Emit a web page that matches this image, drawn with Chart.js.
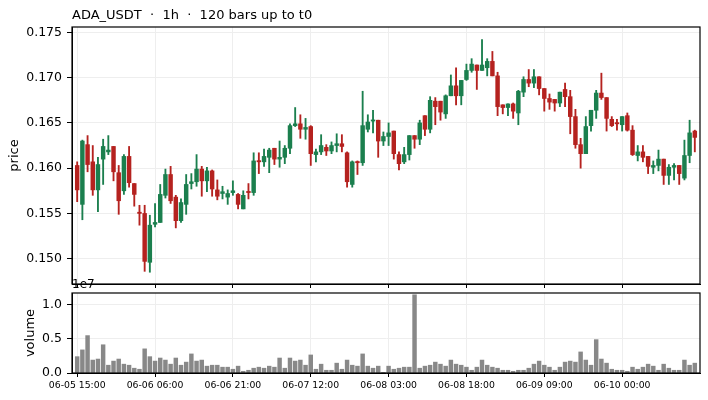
<!DOCTYPE html>
<html>
<head>
<meta charset="utf-8">
<script src="https://cdn.jsdelivr.net/npm/chart.js@4.4.1/dist/chart.umd.min.js"></script>
<style>
  body { margin: 0; background: #fff; }
  #wrap { position: relative; width: 708px; height: 400px; font-family: "DejaVu Sans", sans-serif; color: #000; }
  #price { position: absolute; left: 0; top: 0; }
  #volume { position: absolute; left: 0; top: 289px; }
  #title { position: absolute; left: 72px; top: 8px; font-size: 13px; line-height: 1; white-space: pre; }
  #offset { position: absolute; left: 72px; top: 278px; font-size: 12px; line-height: 1; }
</style>
</head>
<body>
<div id="wrap">
  <canvas id="price" width="708" height="290"></canvas>
  <canvas id="volume" width="708" height="111"></canvas>
  <div id="title">ADA_USDT  ·  1h  ·  120 bars up to t0</div>
  <div id="offset">1e7</div>
</div>
<script>
// hourly candles, bar index 0 = 06-05 15:00
const opens = [
  0.1603, 0.1560, 0.1626, 0.1607, 0.1576, 0.1610, 0.1618, 0.1624, 0.1595, 0.1575,
  0.1613, 0.1583, 0.1551, 0.1550, 0.1496, 0.1538, 0.1540, 0.1570, 0.1593, 0.1568,
  0.1542, 0.1560, 0.1583, 0.1585, 0.1599, 0.1586, 0.1597, 0.1576, 0.1572, 0.1568,
  0.1573, 0.1571, 0.1555, 0.1574, 0.1573, 0.1608, 0.1607, 0.1612, 0.1622, 0.1610,
  0.1612, 0.1622, 0.1647, 0.1649, 0.1643, 0.1646, 0.1615, 0.1618, 0.1623, 0.1619,
  0.1625, 0.1627, 0.1617, 0.1582, 0.1607, 0.1606, 0.1643, 0.1652, 0.1653, 0.1630,
  0.1635, 0.1641, 0.1615, 0.1607, 0.1615, 0.1636, 0.1632, 0.1658, 0.1643, 0.1674,
  0.1674, 0.1660, 0.1680, 0.1691, 0.1680, 0.1698, 0.1708, 0.1714, 0.1708, 0.1711,
  0.1718, 0.1702, 0.1670, 0.1667, 0.1671, 0.1661, 0.1684, 0.1698, 0.1694, 0.1701,
  0.1688, 0.1677, 0.1676, 0.1672, 0.1687, 0.1679, 0.1657, 0.1626, 0.1616, 0.1647,
  0.1664, 0.1683, 0.1678, 0.1654, 0.1650, 0.1648, 0.1658, 0.1642, 0.1614, 0.1618,
  0.1613, 0.1601, 0.1603, 0.1610, 0.1592, 0.1601, 0.1603, 0.1589, 0.1614, 0.1641
];
const highs = [
  0.1607, 0.1631, 0.1636, 0.1625, 0.1612, 0.1632, 0.1636, 0.1624, 0.1603, 0.1615,
  0.1624, 0.1583, 0.1559, 0.1559, 0.1548, 0.1561, 0.1582, 0.1599, 0.1602, 0.1570,
  0.1566, 0.1593, 0.1594, 0.1615, 0.1602, 0.1601, 0.1598, 0.1587, 0.1580, 0.1576,
  0.1586, 0.1572, 0.1575, 0.1583, 0.1617, 0.1617, 0.1621, 0.1622, 0.1622, 0.1630,
  0.1625, 0.1649, 0.1667, 0.1659, 0.1655, 0.1647, 0.1621, 0.1637, 0.1626, 0.1629,
  0.1638, 0.1637, 0.1618, 0.1608, 0.1608, 0.1685, 0.1659, 0.1664, 0.1653, 0.1640,
  0.1650, 0.1641, 0.1618, 0.1623, 0.1636, 0.1636, 0.1653, 0.1658, 0.1679, 0.1678,
  0.1674, 0.1681, 0.1703, 0.1711, 0.1697, 0.1715, 0.1721, 0.1714, 0.1742, 0.1721,
  0.1729, 0.1706, 0.1670, 0.1671, 0.1672, 0.1686, 0.1701, 0.1709, 0.1709, 0.1701,
  0.1688, 0.1682, 0.1676, 0.1684, 0.1694, 0.1686, 0.1665, 0.1633, 0.1657, 0.1664,
  0.1686, 0.1705, 0.1678, 0.1657, 0.1654, 0.1657, 0.1661, 0.1647, 0.1625, 0.1625,
  0.1613, 0.1608, 0.1620, 0.1610, 0.1604, 0.1605, 0.1603, 0.1631, 0.1653, 0.1642
];
const lows = [
  0.1563, 0.1543, 0.1596, 0.1570, 0.1552, 0.1582, 0.1615, 0.1586, 0.1549, 0.1571,
  0.1579, 0.1558, 0.1537, 0.1486, 0.1485, 0.1535, 0.1540, 0.1567, 0.1561, 0.1534,
  0.1540, 0.1549, 0.1577, 0.1580, 0.1569, 0.1574, 0.1569, 0.1565, 0.1566, 0.1560,
  0.1570, 0.1555, 0.1555, 0.1566, 0.1570, 0.1594, 0.1602, 0.1595, 0.1604, 0.1601,
  0.1605, 0.1616, 0.1646, 0.1633, 0.1632, 0.1603, 0.1607, 0.1615, 0.1614, 0.1616,
  0.1618, 0.1618, 0.1579, 0.1579, 0.1593, 0.1603, 0.1640, 0.1639, 0.1612, 0.1625,
  0.1625, 0.1610, 0.1598, 0.1605, 0.1609, 0.1622, 0.1626, 0.1636, 0.1639, 0.1648,
  0.1653, 0.1655, 0.1680, 0.1670, 0.1670, 0.1697, 0.1706, 0.1687, 0.1708, 0.1702,
  0.1702, 0.1658, 0.1660, 0.1658, 0.1655, 0.1648, 0.1679, 0.1690, 0.1689, 0.1681,
  0.1663, 0.1665, 0.1663, 0.1668, 0.1668, 0.1638, 0.1622, 0.1600, 0.1616, 0.1641,
  0.1655, 0.1676, 0.1641, 0.1646, 0.1642, 0.1641, 0.1641, 0.1614, 0.1608, 0.1607,
  0.1594, 0.1594, 0.1597, 0.1582, 0.1582, 0.1587, 0.1582, 0.1587, 0.1606, 0.1618
];
const closes = [
  0.1576, 0.1630, 0.1604, 0.1576, 0.1604, 0.1624, 0.1620, 0.1596, 0.1564, 0.1613,
  0.1584, 0.1571, 0.1550, 0.1497, 0.1537, 0.1540, 0.1571, 0.1593, 0.1564, 0.1542,
  0.1562, 0.1582, 0.1585, 0.1599, 0.1586, 0.1597, 0.1577, 0.1569, 0.1574, 0.1572,
  0.1575, 0.1560, 0.1570, 0.1573, 0.1608, 0.1607, 0.1613, 0.1620, 0.1610, 0.1612,
  0.1622, 0.1647, 0.1649, 0.1643, 0.1645, 0.1616, 0.1618, 0.1625, 0.1619, 0.1625,
  0.1627, 0.1624, 0.1585, 0.1607, 0.1606, 0.1647, 0.1651, 0.1653, 0.1630, 0.1635,
  0.1639, 0.1616, 0.1605, 0.1615, 0.1636, 0.1632, 0.1650, 0.1643, 0.1675, 0.1668,
  0.1662, 0.1680, 0.1691, 0.1680, 0.1697, 0.1708, 0.1715, 0.1708, 0.1714, 0.1718,
  0.1702, 0.1668, 0.1667, 0.1671, 0.1663, 0.1685, 0.1698, 0.1694, 0.1701, 0.1688,
  0.1677, 0.1673, 0.1672, 0.1684, 0.1679, 0.1657, 0.1626, 0.1616, 0.1646, 0.1664,
  0.1683, 0.1678, 0.1655, 0.1647, 0.1649, 0.1657, 0.1642, 0.1615, 0.1618, 0.1612,
  0.1602, 0.1603, 0.1610, 0.1592, 0.1601, 0.1603, 0.1594, 0.1614, 0.1639, 0.1634
];
// volume in millions
const volumes = [
  2.39, 3.38, 5.47, 1.89, 2.04, 4.13, 1.14, 1.74, 2.04, 1.29,
  1.14, 0.70, 0.55, 3.53, 2.39, 1.74, 2.19, 1.89, 1.29, 2.19,
  1.14, 1.59, 2.79, 1.74, 1.89, 1.00, 1.14, 1.14, 0.85, 0.85,
  0.55, 1.00, 0.25, 0.40, 0.70, 0.85, 0.70, 1.00, 0.85, 2.19,
  0.70, 2.19, 1.74, 1.89, 1.14, 2.64, 0.55, 1.29, 0.40, 0.40,
  1.44, 0.55, 1.89, 1.14, 1.00, 2.79, 1.00, 0.70, 1.00, 0.10,
  1.00, 0.55, 0.70, 0.85, 0.85, 11.44, 0.70, 1.00, 1.14, 1.59,
  1.29, 1.00, 1.89, 1.29, 1.14, 0.85, 0.40, 0.85, 1.89, 1.14,
  0.85, 0.70, 0.40, 0.40, 0.25, 0.40, 0.40, 0.70, 1.29, 1.74,
  1.14, 0.85, 0.40, 0.85, 1.59, 1.74, 1.59, 3.08, 1.89, 1.14,
  4.88, 2.04, 1.44, 0.55, 0.40, 0.40, 0.25, 0.85, 0.55, 0.85,
  1.29, 1.00, 0.40, 1.29, 0.70, 0.40, 0.40, 1.89, 1.14, 1.44
];
const xTickPos = [0, 15, 30, 45, 60, 75, 90, 105];
const xTickLabels = ['06-05 15:00', '06-06 06:00', '06-06 21:00', '06-07 12:00',
                     '06-08 03:00', '06-08 18:00', '06-09 09:00', '06-10 00:00'];
const priceTicks = [0.150, 0.155, 0.160, 0.165, 0.170, 0.175];
const volumeTicks = [0, 5, 10];

const UP = '#1b7f4e';
const DOWN = '#b5221f';
const GRID = '#eeeeee';
const FONT = 'DejaVu Sans';

const colors = opens.map((o, i) => (closes[i] >= o ? UP : DOWN));

// black box round the plot area, like a matplotlib frame
const framePlugin = {
  id: 'frame',
  afterDraw(chart) {
    const a = chart.chartArea;
    const ctx = chart.ctx;
    ctx.save();
    ctx.strokeStyle = '#000';
    ctx.lineWidth = 1.2;
    ctx.strokeRect(a.left, a.top, a.right - a.left, a.bottom - a.top);
    ctx.restore();
  }
};

// stop the tick labels from pushing the plot area in
function noPad(s) {
  s.paddingTop = 0;
  s.paddingBottom = 0;
  s.paddingLeft = 0;
  s.paddingRight = 0;
}

function xScale(showLabels) {
  return {
    type: 'linear',
    min: -1,
    max: 120,
    offset: false,
    grid: { offset: false, color: GRID, tickColor: '#000', tickLength: 4 },
    border: { color: '#000' },
    ticks: {
      display: showLabels,
      color: '#000',
      padding: 3,
      maxRotation: 0,
      font: { family: FONT, size: 9.3 },
      callback: (v) => xTickLabels[xTickPos.indexOf(v)]
    },
    afterBuildTicks: (s) => { s.ticks = xTickPos.map((v) => ({ value: v })); },
    afterFit: (s) => { s.height = showLabels ? 27 : 6; noPad(s); }
  };
}

function yScale(min, max, ticks, fmt, label, titlePad) {
  return {
    min: min,
    max: max,
    grid: { color: GRID, tickColor: '#000', tickLength: 5 },
    border: { color: '#000' },
    ticks: {
      color: '#000',
      padding: 5,
      font: { family: FONT, size: 12.5 },
      callback: fmt
    },
    afterBuildTicks: (s) => { s.ticks = ticks.map((v) => ({ value: v })); },
    afterFit: (s) => { s.width = 72; noPad(s); },
    title: {
      display: true,
      text: label,
      color: '#000',
      font: { family: FONT, size: 13 },
      padding: { top: titlePad, bottom: 0 }
    }
  };
}

new Chart(document.getElementById('price'), {
  type: 'bar',
  data: {
    datasets: [
      {
        label: 'wick',
        data: opens.map((o, i) => ({ x: i, y: [lows[i], highs[i]] })),
        backgroundColor: colors,
        barThickness: 1.2,
        grouped: false,
        order: 2
      },
      {
        label: 'body',
        data: opens.map((o, i) => ({ x: i, y: [o, closes[i]] })),
        backgroundColor: colors,
        barThickness: 3.8,
        minBarLength: 1.2,
        grouped: false,
        order: 1
      }
    ]
  },
  options: {
    responsive: false,
    devicePixelRatio: 1,
    animation: false,
    layout: { padding: { left: 0, right: 8, top: 27, bottom: 0 } },
    plugins: { legend: { display: false }, tooltip: { enabled: false } },
    scales: {
      x: xScale(false),
      y: yScale(0.1472, 0.1756, priceTicks, (v) => v.toFixed(3), 'price', 7)
    }
  },
  plugins: [framePlugin]
});

new Chart(document.getElementById('volume'), {
  type: 'bar',
  data: {
    datasets: [{
      label: 'volume',
      data: volumes.map((v, i) => ({ x: i, y: v })),
      backgroundColor: '#888888',
      barThickness: 3.8,
      grouped: false
    }]
  },
  options: {
    responsive: false,
    devicePixelRatio: 1,
    animation: false,
    layout: { padding: { left: 0, right: 8, top: 4, bottom: 0 } },
    plugins: { legend: { display: false }, tooltip: { enabled: false } },
    scales: {
      x: xScale(true),
      y: yScale(0, 11.7, volumeTicks, (v) => (v / 10).toFixed(1), 'volume', 23)
    }
  },
  plugins: [framePlugin]
});
</script>
</body>
</html>
